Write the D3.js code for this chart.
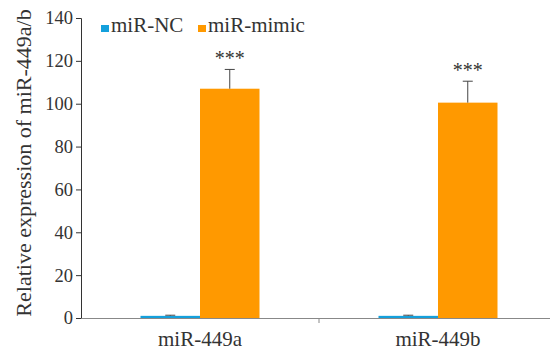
<!DOCTYPE html>
<html><head><meta charset="utf-8">
<script src="https://cdn.jsdelivr.net/npm/d3@7"></script>
<style>body{margin:0;background:#fff}svg{display:block}</style>
</head><body><svg id="c" width="550" height="351" font-family="Liberation Serif"></svg>
<script>
const categories = ["miR-449a", "miR-449b"];
const series = ["miR-NC", "miR-mimic"];
const ncValues = [1, 1];
const ncErrors = [0.3, 0.3];
const mimicValues = [107, 100.5];
const mimicErrors = [9, 10];
const yTicks = [0, 20, 40, 60, 80, 100, 120, 140];
const colors = ["#14a0dc", "#ff9900"];
const sig = ["***", "***"];
const FONT = "Liberation Serif";
const TXT = "#333";

const svg = d3.select("#c");
const x0 = d3.scaleBand().domain(categories).range([81, 557]);
const x1 = d3.scaleBand().domain(series).range([-59.5, 59.5]);
const y = d3.scaleLinear().domain([0, 140]).range([318, 18]);

const data = categories.map((c, i) => ({c, vals: [
  {s: series[0], v: ncValues[i], e: ncErrors[i]},
  {s: series[1], v: mimicValues[i], e: mimicErrors[i]}]}));

// y axis
const ya = svg.append("g").attr("transform", "translate(81,0)")
  .call(d3.axisLeft(y).tickValues(yTicks).tickSize(5).tickPadding(3));
ya.attr("font-family", FONT);
ya.select(".domain").attr("stroke", "#333");
ya.selectAll(".tick line").attr("stroke", "#333");
ya.selectAll("text").attr("font-size", 18.5).attr("font-family", FONT).attr("fill", TXT);

// bars
const g = svg.append("g").selectAll("g").data(data).join("g")
  .attr("transform", d => `translate(${x0(d.c) + x0.bandwidth()/2},0)`);
g.selectAll("rect").data(d => d.vals).join("rect")
  .attr("x", d => x1(d.s)).attr("width", x1.bandwidth())
  .attr("y", d => y(d.v)).attr("height", d => y(0) - y(d.v))
  .attr("fill", (d, i) => colors[i]);
// error bars
g.selectAll("g.err").data(d => d.vals).join("g").attr("class", "err")
  .each(function(d) {
    const cx = x1(d.s) + x1.bandwidth()/2;
    const s = d3.select(this);
    s.append("line").attr("x1", cx).attr("x2", cx).attr("y1", y(d.v)).attr("y2", y(d.v + d.e)).attr("stroke", "#444").attr("stroke-width", 1);
    s.append("line").attr("x1", cx - 5).attr("x2", cx + 5).attr("y1", y(d.v + d.e)).attr("y2", y(d.v + d.e)).attr("stroke", "#444").attr("stroke-width", 1);
  });
// significance
g.append("text").attr("x", d => x1(series[1]) + x1.bandwidth()/2)
  .attr("y", (d, i) => y(d.vals[1].v + d.vals[1].e) - 4)
  .attr("text-anchor", "middle").attr("font-size", 20).attr("font-family", FONT).attr("fill", TXT)
  .text((d, i) => sig[i]);

// x axis
const xa = svg.append("g").attr("transform", "translate(0,318)")
  .call(d3.axisBottom(x0).tickSize(0).tickPadding(13));
xa.select(".domain").attr("stroke", "#888");
xa.selectAll("text").attr("font-size", 21).attr("font-family", FONT).attr("fill", TXT);
svg.append("line").attr("x1", x0(categories[1])).attr("x2", x0(categories[1]))
  .attr("y1", 318).attr("y2", 323).attr("stroke", "#888");

// y title
svg.append("text").attr("transform", "translate(31,163) rotate(-90)")
  .attr("text-anchor", "middle").attr("font-size", 22).attr("font-family", FONT).attr("fill", TXT)
  .text("Relative expression of miR-449a/b");

// legend
const lx = [101, 198];
series.forEach((s, i) => {
  svg.append("rect").attr("x", lx[i]).attr("y", 25).attr("width", 8).attr("height", 7).attr("fill", colors[i]);
  svg.append("text").attr("x", lx[i] + 10).attr("y", 32).attr("font-size", 21).attr("font-family", FONT).attr("fill", TXT).text(s);
});
</script></body></html>
